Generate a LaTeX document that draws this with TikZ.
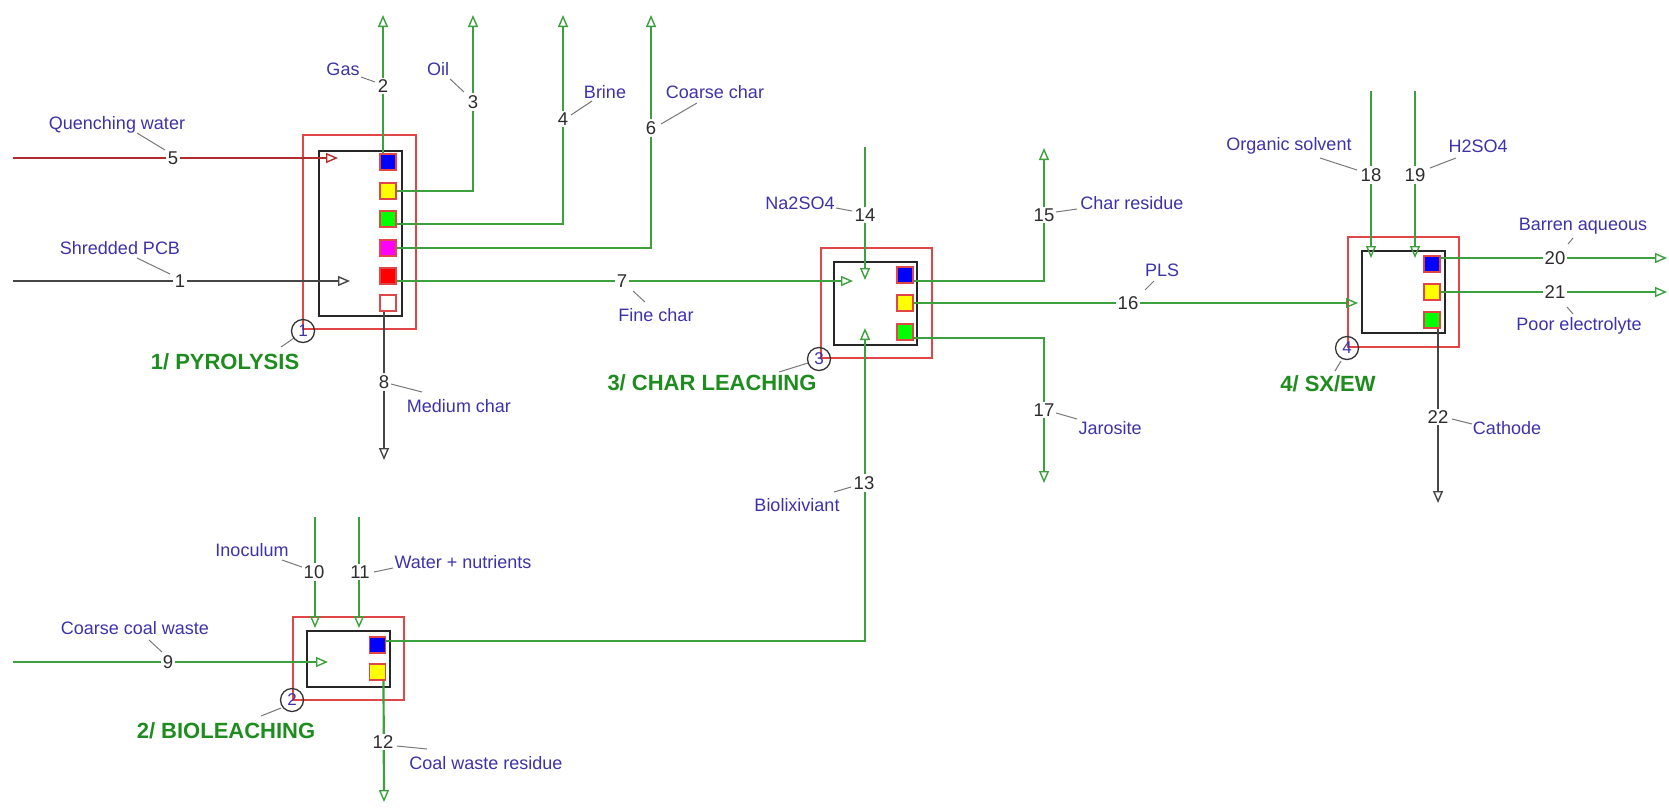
\documentclass[tikz,border=0pt]{standalone}
\usepackage{fontspec}
\setmainfont{Liberation Sans}
\usetikzlibrary{arrows.meta}
\definecolor{sgreen}{RGB}{60,160,60}
\definecolor{boxred}{RGB}{225,70,70}
\definecolor{qred}{RGB}{175,45,45}
\definecolor{sgray}{RGB}{70,70,70}
\definecolor{labcol}{RGB}{60,50,170}
\definecolor{numcol}{RGB}{45,45,45}
\definecolor{ttlgreen}{RGB}{30,140,30}
\definecolor{leadcol}{RGB}{120,120,120}
\definecolor{pblue}{RGB}{0,0,255}
\definecolor{pyellow}{RGB}{255,255,0}
\definecolor{pgreen}{RGB}{0,255,0}
\definecolor{pmagenta}{RGB}{255,0,255}
\definecolor{pred}{RGB}{255,0,0}
\definecolor{pwhite}{RGB}{255,255,255}
\begin{document}
\begin{tikzpicture}[x=1pt,y=-1pt,
  outerbox/.style={draw=boxred,line width=1.9pt,inner sep=0pt},
  innerbox/.style={draw=black!85,line width=2pt,inner sep=0pt},
  port/.style={draw=boxred,line width=1.3pt,minimum size=16pt,inner sep=0pt},
  gline/.style={draw=sgreen,line width=2.2pt},
  kline/.style={draw=sgray,line width=2.2pt},
  rline/.style={draw=qred,line width=2pt},
  arr/.style={-{Triangle[open,length=12pt,width=10pt,line width=1.4pt]}},
  num/.style={fill=white,inner sep=2pt,text=numcol,font=\fontsize{18.5}{20}\selectfont},
  lab/.style={inner sep=0pt,text=labcol,font=\fontsize{18}{20}\selectfont},
  lead/.style={draw=leadcol,line width=1pt},
  unitnum/.style={circle,draw=black!80,line width=1.3pt,minimum size=23pt,inner sep=0pt,text=labcol,font=\fontsize{17}{18}\selectfont},
  ttl/.style={inner sep=0pt,text=ttlgreen,font=\fontsize{22}{24}\selectfont\bfseries}
]
\useasboundingbox (0,0) rectangle (1669,807);

% ---------- units ----------
\node[outerbox,minimum width=113pt,minimum height=194pt] (u1o) at (359.5,232) {};
\node[innerbox,minimum width=83pt,minimum height=165pt] (u1) at (360.5,233.5) {};
\node[outerbox,minimum width=111pt,minimum height=110pt] (u3o) at (876.5,303) {};
\node[innerbox,minimum width=83pt,minimum height=83pt] (u3) at (875.5,303.5) {};
\node[outerbox,minimum width=111pt,minimum height=110pt] (u4o) at (1403.5,292) {};
\node[innerbox,minimum width=83pt,minimum height=82pt] (u4) at (1403.5,292) {};
\node[outerbox,minimum width=111pt,minimum height=83pt] (u2o) at (348.5,658.5) {};
\node[innerbox,minimum width=83pt,minimum height=56pt] (u2) at (348.5,659) {};

% ---------- ports ----------
\node[port,fill=pblue] (p1a) at (388,162) {};
\node[port,fill=pyellow] (p1b) at (388,191) {};
\node[port,fill=pgreen] (p1c) at (388,219) {};
\node[port,fill=pmagenta] (p1d) at (388,248) {};
\node[port,fill=pred] (p1e) at (388,276) {};
\node[port,fill=pwhite] (p1f) at (388,303) {};
\node[port,fill=pblue] (p3a) at (905,275) {};
\node[port,fill=pyellow] (p3b) at (905,303) {};
\node[port,fill=pgreen] (p3c) at (905,332) {};
\node[port,fill=pblue] (p4a) at (1432,264) {};
\node[port,fill=pyellow] (p4b) at (1432,292) {};
\node[port,fill=pgreen] (p4c) at (1432,320) {};
\node[port,fill=pblue] (p2a) at (377.5,645) {};
\node[port,fill=pyellow] (p2b) at (377.5,672) {};

% ---------- free ends ----------
\coordinate (e5a) at (13,158);   \coordinate (e5b) at (338,158);
\coordinate (e1a) at (13,281);   \coordinate (e1b) at (350,281);
\coordinate (e2) at (383,15);
\coordinate (e3) at (473,15);
\coordinate (e4) at (563,15);
\coordinate (e6) at (651,15);
\coordinate (e7) at (853,281);
\coordinate (e8) at (384,460);
\coordinate (e14a) at (865,147); \coordinate (e14b) at (865,280);
\coordinate (e13) at (865,328);
\coordinate (e15) at (1044,148);
\coordinate (e16) at (1358,303);
\coordinate (e17) at (1044,483);
\coordinate (e18a) at (1371,91); \coordinate (e18b) at (1371,258);
\coordinate (e19a) at (1415,91); \coordinate (e19b) at (1415,258);
\coordinate (e20) at (1667,258);
\coordinate (e21) at (1667,292);
\coordinate (e22) at (1438,503);
\coordinate (e9a) at (13,662);   \coordinate (e9b) at (328,662);
\coordinate (e10a) at (315,517); \coordinate (e10b) at (315,628);
\coordinate (e11a) at (359,517); \coordinate (e11b) at (359,628);
\coordinate (e12) at (384,802);

% ---------- streams ----------
\draw[rline,arr] (e5a) -- (e5b);
\draw[kline,arr] (e1a) -- (e1b);
\draw[gline,arr] ([xshift=-5pt]p1a.north) -- (e2);
\draw[gline,arr] (p1b.east) -| (e3);
\draw[gline,arr] ([yshift=-5pt]p1c.east) -| (e4);
\draw[gline,arr] (p1d.east) -| (e6);
\draw[gline,arr] ([yshift=-5pt]p1e.east) -- (e7);
\draw[kline,arr] ([xshift=-4pt]p1f.south) -- (e8);
\draw[gline,arr] (e14a) -- (e14b);
\draw[gline,arr] ([yshift=4pt]p2a.east) -| (e13);
\draw[gline,arr] ([yshift=-6pt]p3a.east) -| (e15);
\draw[gline,arr] (p3b.east) -- (e16);
\draw[gline,arr] ([yshift=-6pt]p3c.east) -| (e17);
\draw[gline,arr] (e18a) -- (e18b);
\draw[gline,arr] (e19a) -- (e19b);
\draw[gline,arr] ([yshift=6pt]p4a.east) -- (e20);
\draw[gline,arr] (p4b.east) -- (e21);
\draw[kline,arr] ([xshift=6pt]p4c.south) -- (e22);
\draw[gline,arr] (e9a) -- (e9b);
\draw[gline,arr] (e10a) -- (e10b);
\draw[gline,arr] (e11a) -- (e11b);
\draw[gline,arr] ([xshift=6pt]p2b.south) -- (e12);

% redraw ports on top of line starts
\foreach \p/\c in {p1a/pblue,p1b/pyellow,p1c/pgreen,p1d/pmagenta,p1e/pred,p1f/pwhite,p3a/pblue,p3b/pyellow,p3c/pgreen,p4a/pblue,p4b/pyellow,p4c/pgreen,p2a/pblue,p2b/pyellow}
  \fill[\c] ([shift={(-7pt,-7pt)}]\p.center) rectangle ([shift={(7pt,7pt)}]\p.center);
\foreach \p in {p1a,p1b,p1c,p1d,p1e,p1f,p3a,p3b,p3c,p4a,p4b,p4c,p2a,p2b}
  \draw[boxred,line width=1.3pt] ([shift={(-8pt,-8pt)}]\p.center) rectangle ([shift={(8pt,8pt)}]\p.center);

% ---------- leaders ----------
\draw[lead] (137,133) -- (165,150);
\draw[lead] (137,258) -- (170,274);
\draw[lead] (361,77) -- (375,82);
\draw[lead] (450,79) -- (464,92);
\draw[lead] (571,115) -- (592,101);
\draw[lead] (661,124) -- (697,103);
\draw[lead] (633,291) -- (645,302);
\draw[lead] (391,384) -- (422,392);
\draw[lead] (836,208) -- (852,211);
\draw[lead] (1056,212) -- (1077,209);
\draw[lead] (1145,290) -- (1154,281);
\draw[lead] (1056,413) -- (1077,419);
\draw[lead] (834,492) -- (851,487);
\draw[lead] (1320,158) -- (1357,170);
\draw[lead] (1430,168) -- (1456,158);
\draw[lead] (1568,244) -- (1573,238);
\draw[lead] (1567,307) -- (1573,314);
\draw[lead] (1452,419) -- (1472,424);
\draw[lead] (282,560) -- (302,567);
\draw[lead] (374,572) -- (393,568);
\draw[lead] (149,640) -- (162,652);
\draw[lead] (397,746) -- (427,749);
\draw[lead] (281,347) -- (294,338);
\draw[lead] (779,372) -- (808,363);
\draw[lead] (1335,371) -- (1341,361);
\draw[lead] (261,716) -- (281,708);

% ---------- stream numbers ----------
\node[num] (n5) at (173,158) {5};
\node[num] (n1) at (180,281) {1};
\node[num] (n2) at (383,86) {2};
\node[num] (n3) at (473,102) {3};
\node[num] (n4) at (563,119) {4};
\node[num] (n6) at (651,128) {6};
\node[num] (n7) at (622,281) {7};
\node[num] (n8) at (384,382) {8};
\node[num] (n14) at (865,215) {14};
\node[num] (n13) at (864,483) {13};
\node[num] (n15) at (1044,215) {15};
\node[num] (n16) at (1128,303) {16};
\node[num] (n17) at (1044,410) {17};
\node[num] (n18) at (1371,175) {18};
\node[num] (n19) at (1415,175) {19};
\node[num] (n20) at (1555,258) {20};
\node[num] (n21) at (1555,292) {21};
\node[num] (n22) at (1438,417) {22};
\node[num] (n9) at (168,662) {9};
\node[num] (n10) at (314,572) {10};
\node[num] (n11) at (360,572) {11};
\node[num] (n12) at (383,742) {12};

% ---------- stream labels ----------
\node[lab] (l5) at (117,125) {Quenching water};
\node[lab] (l1) at (120,248) {Shredded PCB};
\node[lab] (l2) at (343,69) {Gas};
\node[lab] (l3) at (438,69) {Oil};
\node[lab] (l4) at (605,92) {Brine};
\node[lab] (l6) at (715,92) {Coarse char};
\node[lab] (l7) at (656,315) {Fine char};
\node[lab] (l8) at (459,406) {Medium char};
\node[lab] (l14) at (800,203) {Na2SO4};
\node[lab] (l15) at (1132,203) {Char residue};
\node[lab] (l16) at (1162,270) {PLS};
\node[lab] (l17) at (1110,428) {Jarosite};
\node[lab] (l13) at (797,505) {Biolixiviant};
\node[lab] (l18) at (1289,146) {Organic solvent};
\node[lab] (l19) at (1478,146) {H2SO4};
\node[lab] (l20) at (1583,226) {Barren aqueous};
\node[lab] (l21) at (1579,326) {Poor electrolyte};
\node[lab] (l22) at (1507,428) {Cathode};
\node[lab] (l10) at (252,550) {Inoculum};
\node[lab] (l11) at (463,562) {Water + nutrients};
\node[lab] (l9) at (135,628) {Coarse coal waste};
\node[lab] (l12) at (486,763) {Coal waste residue};

% ---------- unit numbers and titles ----------
\node[unitnum] (c1) at (303,331) {1};
\node[unitnum] (c3) at (819,359) {3};
\node[unitnum] (c4) at (1347,348) {4};
\node[unitnum] (c2) at (292,700) {2};
\node[ttl] (t1) at (225,362) {1/ PYROLYSIS};
\node[ttl] (t3) at (712,383) {3/ CHAR LEACHING};
\node[ttl] (t4) at (1328,384) {4/ SX/EW};
\node[ttl] (t2) at (226,731) {2/ BIOLEACHING};
\end{tikzpicture}
\end{document}
